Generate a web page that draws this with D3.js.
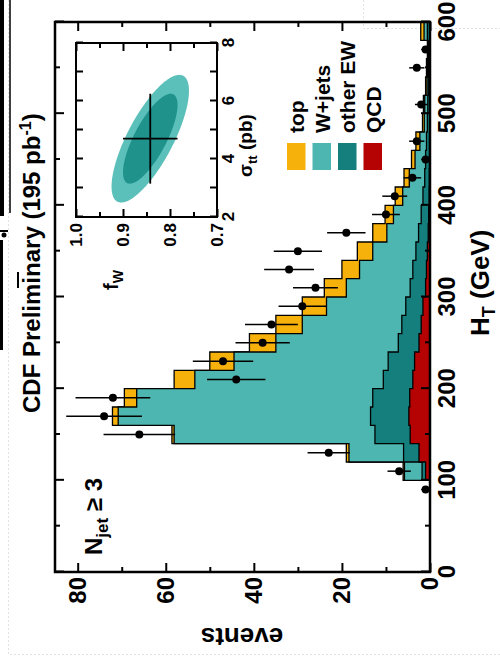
<!DOCTYPE html>
<html>
<head>
<meta charset="utf-8">
<script src="https://cdn.jsdelivr.net/npm/d3@7"></script>
<style>
  body { margin: 0; background: #fff; }
  svg { display: block; font-family: "Liberation Sans", Arial, Helvetica, sans-serif; font-weight: bold; }
</style>
</head>
<body>
<svg id="chart" width="500" height="658"></svg>
<script>
// HT bins (GeV), 20 GeV wide
const binLow = [100,120,140,160,180,200,220,240,260,280,300,320,340,360,380,400,420,440,460,480,500,520,540,560,580];
const binWidth = 20;
// stacked expectations, events per bin (bottom to top)
const qcd     = [1.0,2.5,4.5,4.8,4.6,3.9,3.5,2.5,2.0,1.6,1.0,0.8,0.6,0.4,0.3,0.2,0.15,0.1,0.1,0.05,0.05,0.05,0.03,0.03,0.1];
const otherEW = [0.8,3.5,8.0,8.7,8.4,6.7,6.0,4.7,4.4,3.9,3.5,3.1,2.6,2.2,1.7,1.4,1.05,0.9,0.7,0.55,0.45,0.35,0.27,0.27,0.5];
const wjets   = [4.0,12.4,45.6,57.3,53.6,42.8,35.0,27.8,22.6,18.0,14.5,12.1,9.8,7.2,6.3,4.6,3.5,2.4,1.5,0.7,0.7,0.3,0.3,0.1,0.75];
const ttbar   = [0.3,0.6,0.5,1.3,2.8,4.7,5.5,6.0,6.0,5.5,5.0,4.0,3.5,3.2,1.9,1.7,1.2,0.8,0.9,0.4,0.3,0.3,0.2,0.2,0.75];
// data
const dataLow    = [80,100,120,140,160,180,200,220,240,260,280,300,320,340,360,380,400,420,440,460,480,500,520,540,560,580];
const dataCounts = [1,7,23,66,74,72,44,47,38,36,29,26,32,30,19,10,8,4,1,3,0,2,0,3,1,0];

const legendNames  = ["top", "W+jets", "other EW", "QCD"];
const legendColors = ["#f6b10b", "#4eb6b1", "#147f7c", "#b50202"];

const htTicks = [0,100,200,300,400,500,600];
const htMinor = [50,150,250,350,450,550];
const evTicks = [0,20,40,60,80];
const evMinor = [10,30,50,70];

// inset: fit result
const sigmaTicks = [2,3,4,5,6,7,8];
const sigmaLabels = [2,4,6,8];
const fwTicks = [0.7,0.8,0.9,1.0];
const fwMinor = [0.75,0.85,0.95];
const fitCenter = [4.7, 0.842];   // sigma_tt (pb), f_W
const fitErr = [1.55, 0.058];
const fitCorr = -0.75;
const contourScale = [1.42, 1.0];
const contourColors = ["#5bbfba", "#1f928c"];

const svg = d3.select("#chart");
svg.append("rect").attr("width", 500).attr("height", 658).attr("fill", "#fff");

// faint slide border + scan marks
const deco = svg.append("g");
deco.append("path").attr("d", "M8.5,0V654.5H500M363.5,0V28.5H500")
  .attr("fill", "none").attr("stroke", "#e2e2e2").attr("stroke-dasharray", "2,2");
deco.append("rect").attr("x", 0).attr("y", 0).attr("width", 4).attr("height", 216).attr("fill", "#000");
deco.append("line").attr("x1", 10).attr("x2", 10).attr("y1", 0).attr("y2", 213).attr("stroke", "#000").attr("stroke-width", 1.5);
deco.append("line").attr("x1", 0).attr("x2", 8).attr("y1", 231).attr("y2", 231).attr("stroke", "#000").attr("stroke-width", 2);
deco.append("circle").attr("cx", 4).attr("cy", 235).attr("r", 2.5).attr("fill", "#000");
deco.append("rect").attr("x", 0).attr("y", 240).attr("width", 3).attr("height", 110).attr("fill", "#000");

// the figure is drawn upright and then turned a quarter turn counter-clockwise
const g = svg.append("g").attr("transform", "translate(0,658) rotate(-90)");

const x = d3.scaleLinear().domain([0, 600]).range([86, 636]);
const y = d3.scaleLinear().domain([0, 85.15]).range([430, 55]);

// cumulative stacks
const cumQ = qcd.slice();
const cumE = qcd.map((v, i) => v + otherEW[i]);
const cumW = cumE.map((v, i) => v + wjets[i]);
const cumT = cumW.map((v, i) => v + ttbar[i]);

const area = d3.area()
  .curve(d3.curveStepAfter)
  .x(d => x(d[0]))
  .y0(y(0))
  .y1(d => y(d[1]));

function stepPoints(vals) {
  const pts = binLow.map((b, i) => [b, vals[i]]);
  pts.push([binLow[binLow.length - 1] + binWidth, vals[vals.length - 1]]);
  return pts;
}

const layers = [cumT, cumW, cumE, cumQ];
layers.forEach((vals, i) => {
  g.append("path")
    .attr("d", area(stepPoints(vals)))
    .attr("fill", legendColors[i])
    .attr("stroke", "#000")
    .attr("stroke-width", 1.3)
    .attr("stroke-linejoin", "miter");
});

// data points
const pts = dataLow.map((b, i) => ({ c: b + binWidth / 2, n: dataCounts[i] })).filter(d => d.n > 0);
const dg = g.append("g");
dg.selectAll("line").data(pts).enter().append("line")
  .attr("x1", d => x(d.c)).attr("x2", d => x(d.c))
  .attr("y1", d => y(d.n - Math.sqrt(d.n))).attr("y2", d => y(d.n + Math.sqrt(d.n)))
  .attr("stroke", "#000").attr("stroke-width", 1.5);
dg.selectAll("circle").data(pts).enter().append("circle")
  .attr("cx", d => x(d.c)).attr("cy", d => y(d.n)).attr("r", 4).attr("fill", "#000");

// axes
function styleAxis(sel, size) {
  sel.attr("font-family", null).attr("font-size", size).attr("font-weight", "bold");
  sel.select(".domain").remove();
  sel.selectAll("line").attr("stroke", "#000").attr("stroke-width", 2);
  sel.selectAll("text").attr("fill", "#000");
}

g.append("g").attr("transform", "translate(0,430)")
  .call(d3.axisBottom(x).tickValues(htTicks).tickSize(-9).tickPadding(8).tickFormat(d3.format("d")))
  .call(s => styleAxis(s, 24));
g.append("g").attr("transform", "translate(0,430)")
  .call(d3.axisBottom(x).tickValues(htMinor).tickSize(-5).tickFormat(""))
  .call(s => styleAxis(s, 24));
g.append("g").attr("transform", "translate(0,55)")
  .call(d3.axisTop(x).tickValues(htTicks).tickSize(-9).tickFormat(""))
  .call(s => styleAxis(s, 24));
g.append("g").attr("transform", "translate(0,55)")
  .call(d3.axisTop(x).tickValues(htMinor).tickSize(-5).tickFormat(""))
  .call(s => styleAxis(s, 24));

g.append("g").attr("transform", "translate(86,0)")
  .call(d3.axisLeft(y).tickValues(evTicks).tickSize(-9).tickPadding(5).tickFormat(d3.format("d")))
  .call(s => styleAxis(s, 24));
g.append("g").attr("transform", "translate(86,0)")
  .call(d3.axisLeft(y).tickValues(evMinor).tickSize(-5).tickFormat(""))
  .call(s => styleAxis(s, 24));
g.append("g").attr("transform", "translate(636,0)")
  .call(d3.axisRight(y).tickValues(evTicks).tickSize(-9).tickFormat(""))
  .call(s => styleAxis(s, 24));
g.append("g").attr("transform", "translate(636,0)")
  .call(d3.axisRight(y).tickValues(evMinor).tickSize(-5).tickFormat(""))
  .call(s => styleAxis(s, 24));

g.append("rect").attr("x", 86).attr("y", 55).attr("width", 550).attr("height", 375)
  .attr("fill", "none").attr("stroke", "#000").attr("stroke-width", 2.5);

// axis titles
const htTitle = g.append("text").attr("x", 322).attr("y", 489).attr("font-size", 26).attr("fill", "#000");
htTitle.append("tspan").text("H");
htTitle.append("tspan").attr("font-size", 18).attr("dy", 6).text("T");
htTitle.append("tspan").attr("dy", -6).text(" (GeV)");

g.append("text").attr("transform", "translate(30,242) rotate(-90)")
  .attr("text-anchor", "middle").attr("font-size", 26).attr("fill", "#000").text("events");

// title
const title = g.append("text").attr("x", 245).attr("y", 40).attr("font-size", 24).attr("fill", "#000");
title.append("tspan").text("CDF Preliminary (195 pb");
title.append("tspan").attr("font-size", 16).attr("dy", -9).text("-1");
title.append("tspan").attr("dy", 9).text(")");
g.append("line").attr("x1", 370).attr("x2", 386).attr("y1", 18).attr("y2", 18).attr("stroke", "#000").attr("stroke-width", 2);

// jet multiplicity
const nj = g.append("text").attr("x", 103).attr("y", 102).attr("font-size", 24).attr("fill", "#000");
nj.append("tspan").text("N");
nj.append("tspan").attr("font-size", 17).attr("dy", 6).text("jet");
nj.append("tspan").attr("dy", -6).text(" \u2265 3");

// legend
const lg = g.append("g");
legendNames.forEach((name, i) => {
  const yy = 287 + i * 25.5;
  lg.append("rect").attr("x", 488).attr("y", yy).attr("width", 27).attr("height", 18.5).attr("fill", legendColors[i]);
  lg.append("text").attr("x", 525).attr("y", yy + 17).attr("font-size", 21).attr("fill", "#000").text(name);
});

// inset
const xs = d3.scaleLinear().domain([2, 8]).range([441, 615]);
const yf = d3.scaleLinear().domain([0.7, 1.0]).range([217, 76]);
const ins = g.append("g");
ins.append("rect").attr("x", 441).attr("y", 76).attr("width", 174).attr("height", 141).attr("fill", "#fff");

const ell = d3.line().curve(d3.curveLinearClosed).x(d => xs(d[0])).y(d => yf(d[1]));
const angles = d3.range(0, 2 * Math.PI, Math.PI / 90);
contourScale.forEach((k, i) => {
  const path = angles.map(t => [
    fitCenter[0] + k * fitErr[0] * Math.cos(t),
    fitCenter[1] + k * fitErr[1] * (fitCorr * Math.cos(t) + Math.sqrt(1 - fitCorr * fitCorr) * Math.sin(t))
  ]);
  ins.append("path").attr("d", ell(path)).attr("fill", contourColors[i]);
});
ins.append("line")
  .attr("x1", xs(fitCenter[0] - fitErr[0])).attr("x2", xs(fitCenter[0] + fitErr[0]))
  .attr("y1", yf(fitCenter[1])).attr("y2", yf(fitCenter[1]))
  .attr("stroke", "#000").attr("stroke-width", 1.8);
ins.append("line")
  .attr("x1", xs(fitCenter[0])).attr("x2", xs(fitCenter[0]))
  .attr("y1", yf(fitCenter[1] - fitErr[1])).attr("y2", yf(fitCenter[1] + fitErr[1]))
  .attr("stroke", "#000").attr("stroke-width", 1.8);

ins.append("g").attr("transform", "translate(0,217)")
  .call(d3.axisBottom(xs).tickValues(sigmaTicks).tickSize(-7).tickPadding(5)
    .tickFormat(d => sigmaLabels.includes(d) ? d : ""))
  .call(s => styleAxis(s, 17));
ins.append("g").attr("transform", "translate(0,76)")
  .call(d3.axisTop(xs).tickValues(sigmaTicks).tickSize(-7).tickFormat(""))
  .call(s => styleAxis(s, 17));
ins.append("g").attr("transform", "translate(441,0)")
  .call(d3.axisLeft(yf).tickValues(fwTicks).tickSize(-8).tickPadding(6).tickFormat(d3.format(".1f")))
  .call(s => styleAxis(s, 17));
ins.append("g").attr("transform", "translate(441,0)")
  .call(d3.axisLeft(yf).tickValues(fwMinor).tickSize(-5).tickFormat(""))
  .call(s => styleAxis(s, 17));
ins.append("g").attr("transform", "translate(615,0)")
  .call(d3.axisRight(yf).tickValues(fwTicks).tickSize(-8).tickFormat(""))
  .call(s => styleAxis(s, 17));
ins.append("g").attr("transform", "translate(615,0)")
  .call(d3.axisRight(yf).tickValues(fwMinor).tickSize(-5).tickFormat(""))
  .call(s => styleAxis(s, 17));
ins.append("rect").attr("x", 441).attr("y", 76).attr("width", 174).attr("height", 141)
  .attr("fill", "none").attr("stroke", "#000").attr("stroke-width", 2);

const fwLab = ins.append("text").attr("x", 368).attr("y", 118).attr("font-size", 20).attr("fill", "#000");
fwLab.append("tspan").text("f");
fwLab.append("tspan").attr("font-size", 14).attr("dy", 5).text("W");

const sgLab = ins.append("text").attr("x", 481).attr("y", 252).attr("font-size", 19).attr("fill", "#000");
sgLab.append("tspan").text("\u03c3");
sgLab.append("tspan").attr("font-size", 13).attr("dy", 5).text("tt");
sgLab.append("tspan").attr("dy", -5).text(" (pb)");
</script>
</body>
</html>
